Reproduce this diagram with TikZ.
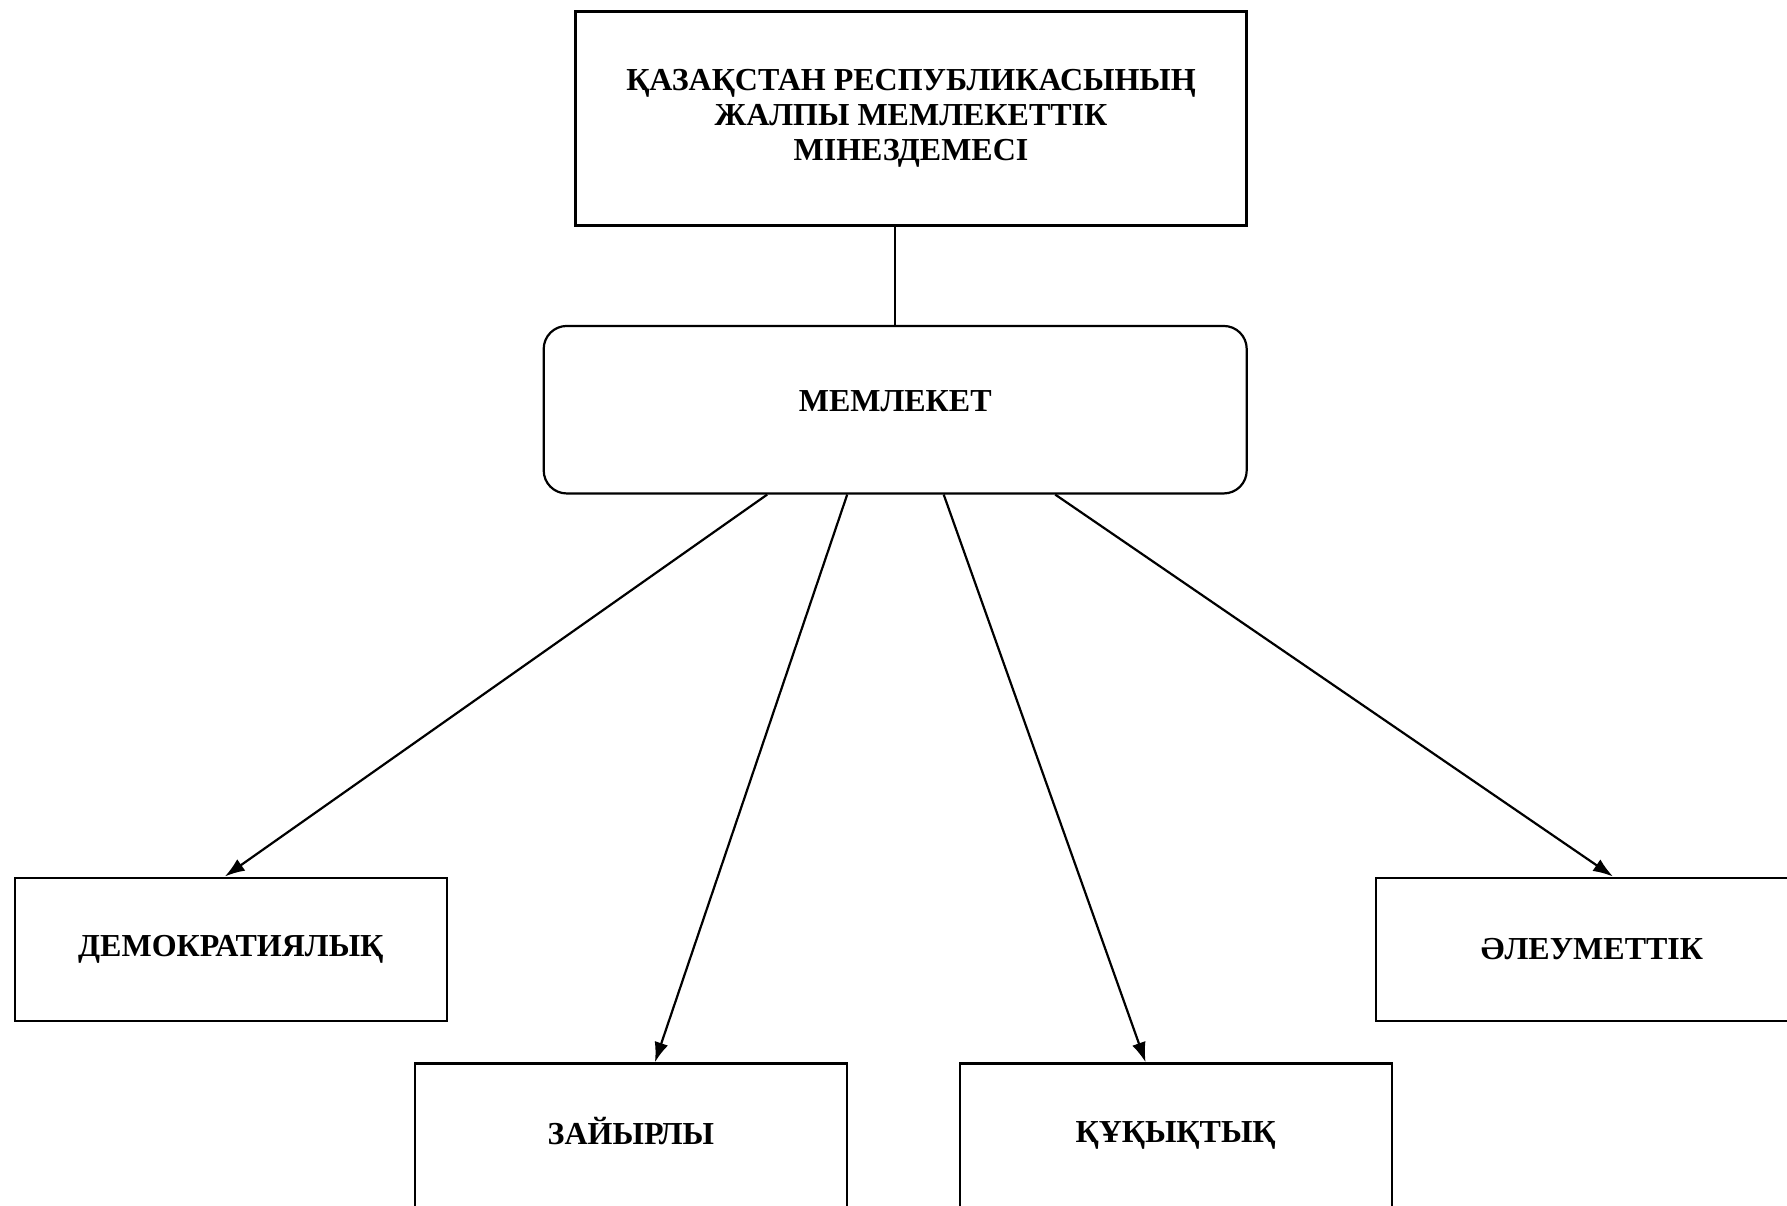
\documentclass[tikz,border=0pt]{standalone}
\usepackage{fontspec}
\setmainfont{Liberation Serif}
\usetikzlibrary{arrows.meta,calc}

\begin{document}
\begin{tikzpicture}[x=1pt,y=-1pt]
\tikzset{
  box/.style     = {shape=rectangle, draw, line width=2.2pt,
                    minimum width=432pt, minimum height=143.6pt,
                    align=center, inner sep=0pt,
                    font=\fontsize{32}{35.3}\selectfont\bfseries},
  titlebox/.style = {box, minimum width=671pt, minimum height=214pt},
  state/.style   = {box, rounded corners=23pt, text depth=18pt,
                    minimum width=703pt, minimum height=167.5pt},
  link/.style    = {line width=2.2pt},
  arrow/.style   = {link, -{Latex[length=20pt,width=14pt]}}
}
  \clip (0,0) rectangle (1787,1205);
  \node[titlebox] (title) at (911,118.5)
    {ҚАЗАҚСТАН РЕСПУБЛИКАСЫНЫҢ\\ЖАЛПЫ МЕМЛЕКЕТТІК\\МІНЕЗДЕМЕСІ};
  \node[state] (memleket) at (895.2,409.7) {МЕМЛЕКЕТ};
  \node[box] (demo)  at (230.8,949.4)  {ДЕМОКРАТИЯЛЫҚ};
  \node[box, text depth=8pt] (zaiyr) at (630.9,1135.2) {ЗАЙЫРЛЫ};
  \node[box] (quq)   at (1175.6,1135.2) {ҚҰҚЫҚТЫҚ};
  \node[box] (aleu)  at (1592,949.4)   {ӘЛЕУМЕТТІК};

  \draw[link] (memleket.north) -- (memleket.north |- title.south);
  \draw[arrow] ([xshift=-128pt]memleket.south) -- ([xshift=-6pt]demo.north);
  \draw[arrow] ([xshift=-48pt]memleket.south)  -- ([xshift=24pt]zaiyr.north);
  \draw[arrow] ([xshift=48.5pt]memleket.south) -- ([xshift=-30pt]quq.north);
  \draw[arrow] ([xshift=160pt]memleket.south)  -- ([xshift=21pt]aleu.north);
\end{tikzpicture}
\end{document}
